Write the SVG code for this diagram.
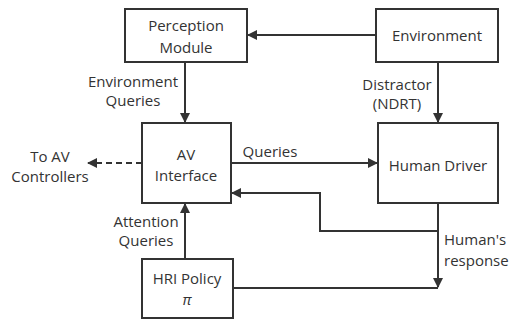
<svg xmlns="http://www.w3.org/2000/svg" width="510" height="321" viewBox="0 0 510 321">
<defs>
<style>
.box{fill:#fff;stroke:#333;stroke-width:2}
.ln{fill:none;stroke:#333;stroke-width:2}
.dash{stroke-dasharray:6,4}
text{font-family:"Open Sans","Liberation Sans",sans-serif;font-size:15px;fill:#333}
.c{text-anchor:middle}
</style>
<marker id="ah" viewBox="0 0 10 10" refX="9" refY="5" markerWidth="5" markerHeight="5" orient="auto"><path d="M0,0L10,5L0,10z" fill="#333"/></marker>
</defs>
<rect width="510" height="321" fill="#fff"/>
<g id="connectors">
<line class="ln" x1="376" y1="35" x2="248" y2="35" marker-end="url(#ah)"/>
<line class="ln" x1="185" y1="62" x2="185" y2="122" marker-end="url(#ah)"/>
<line class="ln" x1="438" y1="62" x2="438" y2="122" marker-end="url(#ah)"/>
<line class="ln" x1="231" y1="163" x2="377" y2="163" marker-end="url(#ah)"/>
<line class="ln dash" x1="142" y1="163" x2="88" y2="163" marker-end="url(#ah)"/>
<polyline class="ln" points="438,203 438,231 320,231 320,193 232,193" marker-end="url(#ah)"/>
<line class="ln" x1="438" y1="231" x2="438" y2="287" marker-end="url(#ah)"/>
<line class="ln" x1="233" y1="288" x2="438" y2="288"/>
<line class="ln" x1="185" y1="259" x2="185" y2="204" marker-end="url(#ah)"/>
<text class="c" x="133" y="87">Environment</text>
<text class="c" x="133" y="106">Queries</text>
<text class="c" x="397" y="90">Distractor</text>
<text class="c" x="397" y="109">(NDRT)</text>
<text class="c" x="270" y="157">Queries</text>
<text class="c" x="50" y="162">To AV</text>
<text class="c" x="50" y="182">Controllers</text>
<text class="c" x="146" y="227">Attention</text>
<text class="c" x="146" y="246">Queries</text>
<text x="444" y="245">Human's</text>
<text x="444" y="266">response</text>
</g>
<g id="perception">
<rect class="box" x="125" y="9" width="122" height="53"/>
<text class="c" x="186" y="31">Perception</text>
<text class="c" x="186" y="53">Module</text>
</g>
<g id="environment">
<rect class="box" x="376" y="9" width="122" height="53"/>
<text class="c" x="437" y="41">Environment</text>
</g>
<g id="av-interface">
<rect class="box" x="142" y="123" width="89" height="80"/>
<text class="c" x="186" y="160">AV</text>
<text class="c" x="186" y="181">Interface</text>
</g>
<g id="human-driver">
<rect class="box" x="378" y="123" width="120" height="80"/>
<text class="c" x="438" y="171">Human Driver</text>
</g>
<g id="hri-policy">
<rect class="box" x="142" y="259" width="91" height="59"/>
<text class="c" x="187" y="284">HRI Policy</text>
<text class="c" x="187" y="305" font-style="italic">π</text>
</g>
</svg>
